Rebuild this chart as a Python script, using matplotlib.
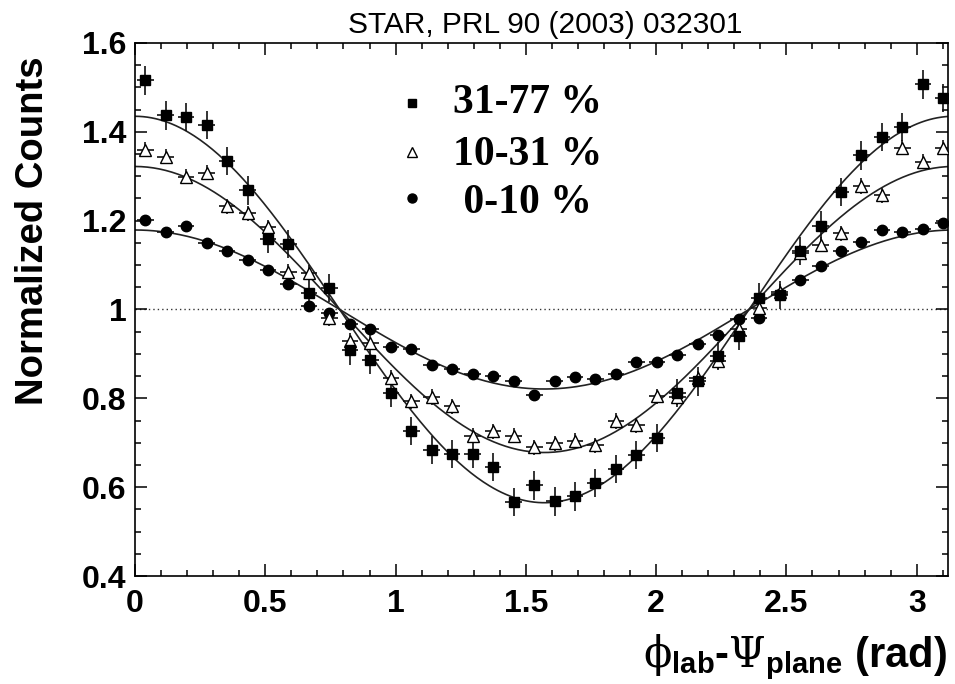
import numpy as np
import matplotlib
matplotlib.use("Agg")
import matplotlib.pyplot as plt
from matplotlib.ticker import MultipleLocator

# ---------------- data ----------------
phi = [0.039, 0.118, 0.196, 0.275, 0.353, 0.432, 0.511, 0.589, 0.668, 0.746,
       0.825, 0.903, 0.982, 1.060, 1.139, 1.217, 1.296, 1.374, 1.453, 1.532,
       1.610, 1.689, 1.767, 1.846, 1.924, 2.003, 2.081, 2.160, 2.238, 2.317,
       2.395, 2.474, 2.553, 2.631, 2.710, 2.788, 2.867, 2.945, 3.024, 3.102]

cent_31_77 = [1.516, 1.437, 1.434, 1.416, 1.334, 1.268, 1.159, 1.148, 1.038, 1.048,
              0.908, 0.887, 0.813, 0.726, 0.684, 0.675, 0.675, 0.645, 0.566, 0.604,
              0.568, 0.579, 0.609, 0.641, 0.673, 0.711, 0.812, 0.838, 0.895, 0.940,
              1.027, 1.033, 1.132, 1.189, 1.265, 1.347, 1.388, 1.411, 1.507, 1.476]

cent_10_31 = [1.360, 1.344, 1.299, 1.308, 1.232, 1.217, 1.185, 1.085, 1.083, 0.980,
              0.929, 0.925, 0.846, 0.793, 0.803, 0.782, 0.716, 0.726, 0.716, 0.690,
              0.699, 0.704, 0.694, 0.749, 0.739, 0.805, 0.803, 0.845, 0.884, 0.956,
              1.003, 1.040, 1.128, 1.146, 1.172, 1.278, 1.257, 1.364, 1.333, 1.364]

cent_0_10 = [1.201, 1.174, 1.187, 1.150, 1.132, 1.112, 1.089, 1.057, 1.008, 0.991,
             0.968, 0.955, 0.915, 0.910, 0.874, 0.867, 0.854, 0.850, 0.839, 0.808,
             0.839, 0.847, 0.844, 0.854, 0.881, 0.882, 0.897, 0.923, 0.942, 0.978,
             0.981, 1.035, 1.067, 1.099, 1.131, 1.153, 1.178, 1.174, 1.181, 1.195]

yerr_31_77 = 0.032
yerr_10_31 = 0.017
yerr_0_10 = 0.009
xerr_bin = 0.032

# fitted amplitudes of 1 + A cos(2 phi)
fit_amp_31_77 = 0.435
fit_amp_10_31 = 0.322
fit_amp_0_10 = 0.179

labels = ["31-77 %", "10-31 %", " 0-10 %"]
title = "STAR, PRL 90 (2003) 032301"

# ---------------- style ----------------
plt.rcParams['mathtext.fontset'] = 'custom'
plt.rcParams['mathtext.rm'] = 'DejaVu Serif'
plt.rcParams['mathtext.bf'] = 'Liberation Sans:bold'
plt.rcParams['mathtext.it'] = 'DejaVu Serif:italic'

W, H = 955, 684
fig = plt.figure(figsize=(W / 100, H / 100), dpi=100)
ax = fig.add_axes([135 / W, 1 - 576 / H, (947.7 - 135) / W, (576 - 43) / H])

XMAX = 3.119
ax.set_xlim(0, XMAX)
ax.set_ylim(0.4, 1.6)

ax.axhline(1.0, color='#333333', lw=1.0, ls=(0, (1, 2.2)), zorder=1)

xs = np.linspace(0, XMAX, 400)
for amp in (fit_amp_31_77, fit_amp_10_31, fit_amp_0_10):
    ax.plot(xs, 1 + amp * np.cos(2 * xs), color='#222222', lw=1.2, zorder=2)

ekw = dict(ecolor='#111111', elinewidth=1.2, capsize=0, linestyle='none', zorder=3)
ax.errorbar(phi, cent_0_10, yerr=yerr_0_10, xerr=xerr_bin, fmt='o', ms=7.5,
            mfc='black', mec='black', **ekw)
ax.errorbar(phi, cent_10_31, yerr=yerr_10_31, xerr=xerr_bin, fmt='^', ms=8,
            mfc='white', mec='black', mew=1.0, **ekw)
ax.errorbar(phi, cent_31_77, yerr=yerr_31_77, xerr=xerr_bin, fmt='s', ms=7.5,
            mfc='black', mec='black', **ekw)

# axes / ticks (ROOT style)
for s in ax.spines.values():
    s.set_linewidth(1.2)
ax.xaxis.set_major_locator(MultipleLocator(0.5))
ax.xaxis.set_minor_locator(MultipleLocator(0.1))
ax.yaxis.set_major_locator(MultipleLocator(0.2))
ax.yaxis.set_minor_locator(MultipleLocator(0.05))
ax.tick_params(which='both', direction='in', top=True, right=True, width=1.1)
ax.tick_params(which='major', length=8.5)
ax.tick_params(which='minor', length=4.3)
ax.tick_params(axis='x', which='major', pad=9)
ax.tick_params(axis='y', which='major', pad=6)

ax.set_xticks([0, 0.5, 1, 1.5, 2, 2.5, 3])
ax.set_xticklabels(['0', '0.5', '1', '1.5', '2', '2.5', '3'])
ax.set_yticks([0.4, 0.6, 0.8, 1.0, 1.2, 1.4, 1.6])
ax.set_yticklabels(['0.4', '0.6', '0.8', '1', '1.2', '1.4', '1.6'])
for lab in ax.get_xticklabels() + ax.get_yticklabels():
    lab.set_fontfamily('Liberation Sans')
    lab.set_fontweight('bold')
    lab.set_fontsize(23)

# titles / labels
fig.text(545 / W, 1 - 25 / H, title, ha='center', va='center',
         fontsize=21.5, family='Liberation Sans')
fig.text(33 / W, 1 - 231 / H, "Normalized Counts", rotation=90, ha='center',
         va='center', fontsize=27.5, fontweight='bold', family='Liberation Sans')
fig.text(947 / W, 1 - 667 / H,
         r'$\mathrm{ϕ}_{\mathbf{lab}}$' + '-' + r'$\mathrm{Ψ}_{\mathbf{plane}}$' + ' (rad)',
         ha='right', va='baseline', fontsize=30, fontweight='bold',
         family='Liberation Sans')

# legend (manual, ROOT-like)
leg_y = [103, 151.7, 198]
leg_text_x = [453, 453, 453]
leg_base = [113, 165, 213]
markers = [dict(marker='s', mfc='black', mec='black', ms=6),
           dict(marker='^', mfc='white', mec='black', ms=6.5, mew=1.0),
           dict(marker='o', mfc='black', mec='black', ms=6.5)]
for lbl, yy, xb, yb, mk in zip(labels, leg_y, leg_text_x, leg_base, markers):
    fig.add_artist(plt.Line2D([411.7 / W], [1 - yy / H], linestyle='none',
                              transform=fig.transFigure, **mk))
    fig.text(xb / W, 1 - yb / H, lbl, ha='left', va='baseline',
             fontsize=30, fontweight='bold', family='Liberation Serif')

fig.savefig('out.png', dpi=100)
